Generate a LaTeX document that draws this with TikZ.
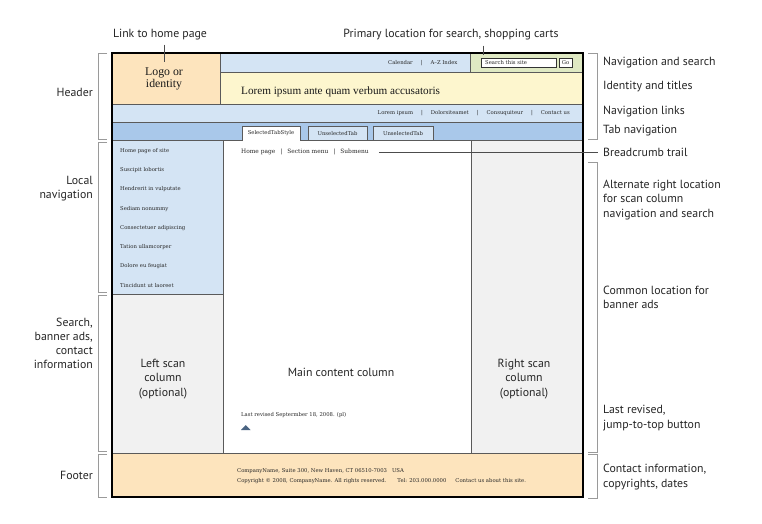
\documentclass[tikz,border=0pt]{standalone}
\usepackage{fontspec}
\setmainfont{Liberation Serif}
\newfontfamily\lab{PT Sans}
\newfontfamily\smallserif{DejaVu Serif}
\definecolor{peach}{HTML}{FDE4BD}
\definecolor{lblue}{HTML}{D4E4F4}
\definecolor{mblue}{HTML}{A9C8EA}
\definecolor{pgreen}{HTML}{DFE9C3}
\definecolor{pyellow}{HTML}{FDF6CE}
\definecolor{pgray}{HTML}{F1F1F1}
\definecolor{edge}{HTML}{5A5A5A}
\definecolor{brk}{HTML}{9A9A9A}
\definecolor{txt}{HTML}{262626}
\definecolor{tri}{HTML}{4A6482}
\newcommand{\sepbar}{\hspace{8pt}|\hspace{8pt}}
\tikzset{
  region/.style={draw=edge, line width=0.9pt},
  tiny/.style={font=\smallserif\fontsize{5.3}{7}\selectfont, text=txt, inner sep=0pt},
  big/.style={font=\fontsize{11.8}{12.5}\selectfont, text=black!90, inner sep=0pt, align=center},
  lbl/.style={font=\lab\fontsize{11.8}{14.2}\selectfont, text=black!85, inner sep=0pt},
  conn/.style={draw=black!70, line width=0.6pt},
  brack/.style={draw=brk, line width=0.8pt},
}
\begin{document}
\begin{tikzpicture}[x=1pt,y=-1pt]
\useasboundingbox (0,0) rectangle (762,524);
\fill[white] (0,0) rectangle (762,524);
% regions
\filldraw[region, fill=peach] (112,53) rectangle (220,104);
\filldraw[region, fill=lblue] (220,53) rectangle (470,72);
\filldraw[region, fill=pgreen] (470,53) rectangle (583,72);
\filldraw[region, fill=pyellow] (220,72) rectangle (583,104);
\filldraw[region, fill=lblue] (112,104) rectangle (583,122);
\filldraw[region, fill=mblue] (112,122) rectangle (583,140);
\filldraw[region, fill=lblue] (112,140) rectangle (223,294);
\filldraw[region, fill=pgray] (112,294) rectangle (223,453);
\filldraw[region, fill=white] (223,140) rectangle (471,453);
\filldraw[region, fill=pgray] (471,140) rectangle (583,453);
\filldraw[region, fill=peach] (112,453) rectangle (583,497);
\draw[black, line width=1.4pt] (112,53) rectangle (583,497);
% tabs
\fill[white] (242,126) rectangle (300,141.5);
\draw[region] (242,141) -- (242,126) -- (300,126) -- (300,141);
\filldraw[region, fill=lblue] (308,126) rectangle (367,140);
\filldraw[region, fill=lblue] (373,126) rectangle (433,140);
\node[tiny] (tab1) at (271,133.5) {SelectedTabStyle};
\node[tiny] (tab2) at (337.5,133.5) {UnselectedTab};
\node[tiny] (tab3) at (403,133.5) {UnselectedTab};
% search box
\filldraw[draw=black!80, fill=white, line width=0.8pt] (481,58) rectangle (556,67);
\filldraw[draw=black!80, fill=white, line width=0.8pt] (559,58) rectangle (572,67);
\node[tiny, anchor=west] (srch) at (485,62.5) {Search this site};
\node[tiny] (go) at (565.5,62.5) {Go};
% header texts
\node[big] (logo) at (164,79) {Logo or\\identity};
\node[tiny, anchor=west] (cal) at (388,63) {Calendar\sepbar A–Z Index};
\node[big, anchor=west, font=\fontsize{11.2}{12}\selectfont] (title) at (241,92) {Lorem ipsum ante quam verbum accusatoris};
\node[tiny, anchor=east] (navl) at (570,113) {Lorem ipsum\sepbar Dolorsiteamet\sepbar Consuquiteur\sepbar Contact us};
% left nav
\foreach \t [count=\i] in {Home page of site, Suscipit lobortis, Hendrerit in vulputate, Sediam nonummy, Consectetuer adipiscing, Tation ullamcorper, Dolore eu feugiat, Tincidunt ut laoreet}{
  \node[tiny, anchor=west] (nav\i) at (120, 151+19.2*\i-19.2) {\t};
}
% breadcrumb
\node[tiny, anchor=west, font=\smallserif\fontsize{5.9}{7}\selectfont] (bc) at (241,152) {Home page\hspace{5pt}|\hspace{5pt}Section menu\hspace{5pt}|\hspace{5pt}Submenu};
% column labels
\node[lbl, align=center] (lscan) at (163,379) {Left scan\\column\\(optional)};
\node[lbl] (mainc) at (341,372) {Main content column};
\node[lbl, align=center] (rscan) at (524,379) {Right scan\\column\\(optional)};
% last revised
\node[tiny, anchor=west] (rev) at (241,415) {Last revised Septermber 18, 2008. (pl)};
\fill[tri] (241,430) -- (250.5,430) -- (245.75,425) -- cycle;
% footer
\node[tiny, anchor=west] (f1) at (237,471) {CompanyName, Suite 300, New Haven, CT 06510-7003\hspace{5pt}USA};
\node[tiny, anchor=west] (f2) at (237,481) {Copyright © 2008, CompanyName. All rights reserved.\hspace{11pt}Tel: 203.000.0000\hspace{9pt}Contact us about this site.};
% top labels
\node[lbl] (lhome) at (160,35) {Link to home page};
\node[lbl] (lprim) at (451,35) {Primary location for search, shopping carts};
\coordinate (homeend) at (164,62);
\coordinate (primend) at (483,55);
\draw[conn] (lhome.south -| homeend) ++(0,4) -- (homeend);
\draw[conn] (lprim.south -| primend) ++(0,5) -- (primend);
% left labels
\node[lbl, anchor=east, align=right] (lhead) at (93,92) {Header};
\node[lbl, anchor=east, align=right] (llocal) at (93,189) {Local\\navigation};
\node[lbl, anchor=east, align=right] (lsearch) at (93,343.5) {Search,\\banner ads,\\contact\\information};
\node[lbl, anchor=east, align=right] (lfoot) at (93,475) {Footer};
\draw[brack] (107,53) -- (98,53) -- (98,139) -- (107,139);
\draw[brack] (107,142) -- (98,142) -- (98,292) -- (107,292);
\draw[brack] (107,295) -- (98,295) -- (98,451) -- (107,451);
\draw[brack] (107,454) -- (98,454) -- (98,497) -- (107,497);
% right labels
\node[lbl, anchor=west] (rnav) at (603,63) {Navigation and search};
\node[lbl, anchor=west] (rid) at (603,87) {Identity and titles};
\node[lbl, anchor=west] (rlinks) at (603,112) {Navigation links};
\node[lbl, anchor=west] (rtab) at (603,131) {Tab navigation};
\node[lbl, anchor=west] (rbc) at (603,152) {Breadcrumb trail};
\node[lbl, anchor=west, align=left] (ralt) at (603,200) {Alternate right location\\for scan column\\navigation and search};
\node[lbl, anchor=west, align=left] (rads) at (603,297) {Common location for\\banner ads};
\node[lbl, anchor=west, align=left] (rrev) at (603,418) {Last revised,\\jump-to-top button};
\node[lbl, anchor=west, align=left] (rcont) at (603,477) {Contact information,\\copyrights, dates};
\draw[brack] (588,53) -- (597,53) -- (597,139) -- (588,139);
\draw[brack] (588,162) -- (597,162) -- (597,452) -- (588,452);
\draw[brack] (588,454) -- (597,454) -- (597,498) -- (588,498);
\draw[conn] ([xshift=10pt]bc.east) -- ([xshift=-5pt]rbc.west);
\end{tikzpicture}
\end{document}
